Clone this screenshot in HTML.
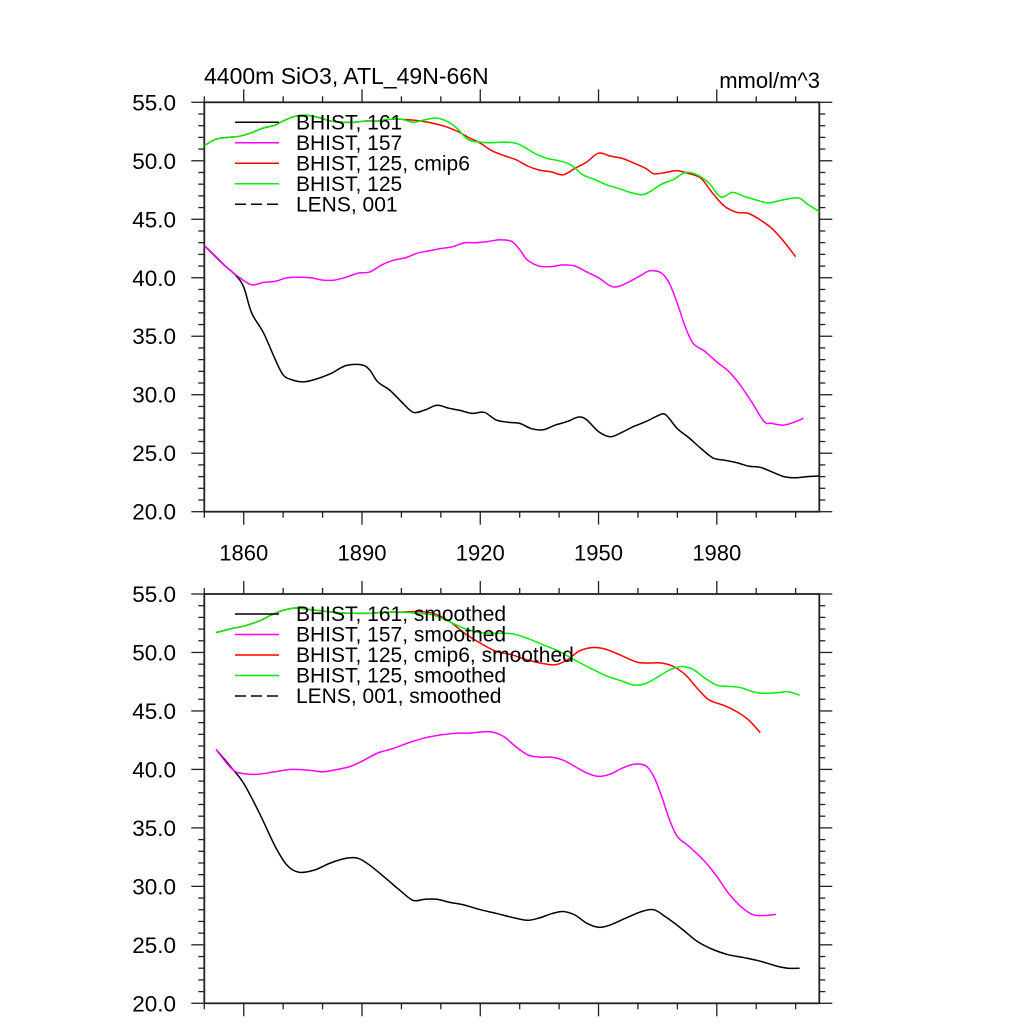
<!DOCTYPE html>
<html><head><meta charset="utf-8"><style>
html,body{margin:0;padding:0;background:#fff;}
svg{display:block;font-family:"Liberation Sans",sans-serif;}
</style></head><body>
<svg id="chart" width="1024" height="1024" viewBox="0 0 1024 1024">
<text x="204" y="84" font-size="23">4400m SiO3, ATL_49N-66N</text>
<text x="820" y="88" font-size="22" text-anchor="end">mmol/m^3</text>
<g id="p1"></g>
<g id="p2"></g>
</svg>
<script>
const yTicks=[20,25,30,35,40,45,50,55];
const xTickLabels=[1860,1890,1920,1950,1980];
const legend1=["BHIST, 161","BHIST, 157","BHIST, 125, cmip6","BHIST, 125","LENS, 001"];
const legend2=["BHIST, 161, smoothed","BHIST, 157, smoothed","BHIST, 125, cmip6, smoothed","BHIST, 125, smoothed","LENS, 001, smoothed"];
const colors=["#000","#ff00ff","#ff0000","#00ee00","#000"];

const blackYears=[1850,1855,1858,1860,1862,1865,1868,1870,1872,1875,1878,1882,1886,1890,1892,1894,1897,1900,1903,1906,1909,1912,1915,1918,1921,1924,1927,1930,1933,1936,1939,1942,1945,1947,1950,1953,1956,1959,1962,1965,1967,1970,1973,1976,1979,1982,1985,1988,1991,1994,1997,2000,2003,2006];
const blackVals=[42.75,41.1,40.2,39.2,37.0,35.3,33.0,31.7,31.3,31.1,31.3,31.8,32.5,32.55,32.1,31.1,30.4,29.4,28.5,28.7,29.1,28.85,28.65,28.4,28.5,27.85,27.65,27.55,27.1,27.0,27.4,27.7,28.1,27.85,26.85,26.4,26.8,27.3,27.7,28.2,28.3,27.1,26.3,25.4,24.6,24.4,24.2,23.9,23.8,23.4,23.0,22.9,23.0,23.05];
const magYears=[1850,1853,1856,1859,1862,1865,1868,1871,1874,1877,1880,1883,1886,1889,1892,1895,1898,1901,1904,1907,1910,1913,1916,1919,1922,1925,1928,1930,1932,1935,1938,1941,1944,1947,1950,1953,1955,1958,1961,1963,1966,1968,1970,1972,1974,1977,1980,1983,1986,1989,1992,1994,1997,2000,2002];
const magVals=[42.75,41.8,40.8,40.0,39.4,39.6,39.7,40.0,40.05,40.0,39.8,39.8,40.05,40.4,40.5,41.1,41.5,41.7,42.1,42.3,42.5,42.65,43.0,43.0,43.1,43.25,43.1,42.4,41.5,41.0,40.95,41.1,41.0,40.5,40.0,39.3,39.25,39.7,40.25,40.6,40.4,39.5,37.8,35.8,34.4,33.7,32.8,32.0,30.8,29.3,27.7,27.55,27.4,27.7,28.0];
const redYears=[1850,1853,1856,1859,1862,1865,1868,1870,1873,1876,1879,1882,1885,1888,1891,1894,1897,1900,1905,1910,1914,1917,1920,1923,1926,1929,1932,1935,1938,1941,1944,1947,1950,1953,1956,1959,1962,1964,1967,1970,1973,1976,1979,1982,1985,1988,1991,1994,1997,2000];
const redVals=[51.3,51.85,52.0,52.1,52.4,52.8,53.05,53.4,53.8,53.9,53.7,53.4,53.3,53.3,53.4,53.4,53.55,53.55,53.4,53.05,52.55,52.0,51.5,50.85,50.45,50.1,49.55,49.2,49.05,48.8,49.35,49.9,50.65,50.4,50.2,49.8,49.35,48.9,49.0,49.15,48.9,48.5,47.2,46.1,45.6,45.5,44.95,44.2,43.1,41.8];
const greenYears=[1850,1853,1856,1859,1862,1865,1868,1870,1873,1876,1879,1882,1885,1888,1891,1894,1897,1900,1903,1906,1909,1912,1914,1917,1920,1923,1926,1929,1931,1934,1937,1940,1943,1946,1949,1952,1955,1958,1961,1963,1966,1969,1972,1975,1978,1981,1984,1987,1990,1993,1996,1999,2001,2003,2006];
const greenVals=[51.3,51.85,52.0,52.1,52.4,52.8,53.05,53.4,53.8,53.9,53.7,53.4,53.3,53.3,53.4,53.4,53.55,53.55,53.3,53.5,53.65,53.3,52.8,51.8,51.6,51.55,51.6,51.5,51.2,50.6,50.2,50.0,49.65,48.8,48.4,47.95,47.65,47.3,47.1,47.35,48.0,48.4,49.0,48.8,48.1,46.9,47.3,46.95,46.65,46.4,46.6,46.8,46.8,46.3,45.65];

const sBlackYears=[1853,1857,1860,1864,1868,1871,1874,1878,1882,1886,1889,1892,1896,1900,1903,1906,1909,1912,1916,1920,1924,1928,1932,1935,1938,1941,1944,1947,1950,1953,1957,1961,1964,1967,1971,1975,1979,1983,1987,1991,1995,1998,2001];
const sBlackVals=[41.7,40.1,38.8,36.25,33.4,31.8,31.2,31.4,32.0,32.4,32.4,31.8,30.7,29.55,28.8,28.9,28.9,28.65,28.4,28.0,27.7,27.35,27.1,27.3,27.65,27.85,27.55,26.85,26.5,26.7,27.3,27.85,28.0,27.4,26.4,25.3,24.6,24.15,23.9,23.6,23.2,23.0,23.0];
const sMagYears=[1853,1856,1858,1861,1864,1868,1872,1876,1880,1883,1887,1890,1894,1898,1902,1906,1910,1914,1917,1920,1923,1926,1929,1932,1935,1938,1941,1944,1947,1950,1953,1956,1959,1962,1964,1966,1968,1970,1973,1977,1980,1983,1986,1989,1992,1995];
const sMagVals=[41.7,40.4,39.8,39.6,39.6,39.8,40.0,39.95,39.8,39.95,40.25,40.7,41.4,41.8,42.3,42.7,42.95,43.1,43.1,43.2,43.2,42.8,41.95,41.25,41.05,41.05,40.8,40.25,39.7,39.4,39.6,40.1,40.45,40.3,39.4,37.7,35.7,34.25,33.4,32.1,30.85,29.4,28.3,27.6,27.5,27.6];
const sRedYears=[1853,1857,1860,1864,1867,1870,1873,1876,1880,1884,1888,1892,1896,1900,1904,1908,1912,1916,1920,1924,1928,1932,1936,1939,1942,1945,1948,1951,1954,1957,1960,1963,1966,1969,1972,1975,1978,1982,1985,1988,1991];
const sRedVals=[51.7,52.05,52.25,52.7,53.2,53.6,53.8,53.7,53.55,53.4,53.35,53.35,53.45,53.45,53.5,53.35,52.7,51.65,50.8,50.1,49.8,49.35,49.05,48.95,49.35,50.1,50.4,50.35,50.0,49.55,49.15,49.1,49.1,48.8,48.1,46.95,45.95,45.45,44.95,44.25,43.15];
const sGreenYears=[1853,1857,1860,1864,1867,1870,1873,1876,1880,1884,1888,1892,1896,1900,1904,1908,1912,1916,1920,1924,1928,1932,1936,1940,1944,1948,1952,1956,1959,1962,1965,1968,1971,1974,1977,1980,1983,1986,1989,1992,1995,1998,2001];
const sGreenVals=[51.7,52.05,52.25,52.7,53.2,53.6,53.8,53.7,53.55,53.4,53.35,53.35,53.45,53.45,53.35,53.2,52.65,52.05,51.7,51.65,51.6,51.2,50.65,50.1,49.35,48.65,48.0,47.55,47.2,47.35,47.9,48.5,48.8,48.55,47.8,47.2,47.1,47.0,46.65,46.5,46.55,46.65,46.35];

const NS="http://www.w3.org/2000/svg";
const X0=204.3,X1=819.3,YR0=1850,YR1=2006;
function xs(y){return X0+(y-YR0)*(X1-X0)/(YR1-YR0);}
function mk(tag,attrs,parent){const e=document.createElementNS(NS,tag);for(const k in attrs)e.setAttribute(k,attrs[k]);parent.appendChild(e);return e;}
function smoothPath(pts){let d="M"+pts[0][0].toFixed(1)+","+pts[0][1].toFixed(1);
 for(let i=0;i<pts.length-1;i++){const p0=pts[Math.max(0,i-1)],p1=pts[i],p2=pts[i+1],p3=pts[Math.min(pts.length-1,i+2)];
  const c1=[p1[0]+(p2[0]-p0[0])/6,p1[1]+(p2[1]-p0[1])/6],c2=[p2[0]-(p3[0]-p1[0])/6,p2[1]-(p3[1]-p1[1])/6];
  d+="C"+c1[0].toFixed(1)+","+c1[1].toFixed(1)+" "+c2[0].toFixed(1)+","+c2[1].toFixed(1)+" "+p2[0].toFixed(1)+","+p2[1].toFixed(1);}
 return d;}
function panel(g,top,bot,series,legend,showX,prefix){
 const ys=v=>bot-(v-20)*(bot-top)/35;
 const ax="#222";
 for(let yr=1850;yr<=2006;yr+=10){const major=(yr-1860)%30===0;const L=major?13:6;const x=xs(yr);
  const t1=mk("line",{x1:x,x2:x,y1:bot,y2:bot+L,stroke:ax,"stroke-width":1.3},g);
  
  
  const t2=mk("line",{x1:x,x2:x,y1:top,y2:top-L,stroke:ax,"stroke-width":1.3},g);
  
  }
 for(let v=20;v<=55;v+=1){const major=v%5===0;const L=major?13:6;const y=ys(v);
  const t1=mk("line",{x1:X0-L,x2:X0,y1:y,y2:y,stroke:ax,"stroke-width":1.3},g);
  
  
  const t2=mk("line",{x1:X1,x2:X1+L,y1:y,y2:y,stroke:ax,"stroke-width":1.3},g);
  
  }
 const fr=mk("rect",{x:X0,y:top,width:X1-X0,height:bot-top,fill:"none",stroke:ax,"stroke-width":1.8},g);
 
 
 yTicks.forEach(v=>{const t=mk("text",{x:176,y:ys(v)+8,"font-size":22.5,"text-anchor":"end"},g);t.textContent=v.toFixed(1);
  
  });
 if(showX)xTickLabels.forEach(v=>{const t=mk("text",{x:xs(v),y:bot+49,"font-size":22,"text-anchor":"middle"},g);t.textContent=v;
  
  });
 series.forEach((s,i)=>{const pts=s[0].map((yr,j)=>[xs(yr),ys(s[1][j])]);
  const p=mk("path",{d:smoothPath(pts),fill:"none",stroke:s[2],"stroke-width":1.5},g);
  
  });
 legend.forEach((lab,i)=>{const y=top+20+i*20.5;
  const l=mk("line",{x1:235,x2:279,y1:y,y2:y,stroke:colors[i],"stroke-width":1.5},g);
  if(i===4)l.setAttribute("stroke-dasharray","11,5");
  
  
  const t=mk("text",{x:296,y:y+7,"font-size":21},g);t.textContent=lab;
  
  });
}
panel(document.getElementById("p1"),102.3,511.7,[[blackYears,blackVals,"#000"],[magYears,magVals,"#ff00ff"],[redYears,redVals,"#ff0000"],[greenYears,greenVals,"#00ee00"]],legend1,true,"raw");
panel(document.getElementById("p2"),594,1003.3,[[sBlackYears,sBlackVals,"#000"],[sMagYears,sMagVals,"#ff00ff"],[sRedYears,sRedVals,"#ff0000"],[sGreenYears,sGreenVals,"#00ee00"]],legend2,false,"smoothed");
</script>
</body></html>
